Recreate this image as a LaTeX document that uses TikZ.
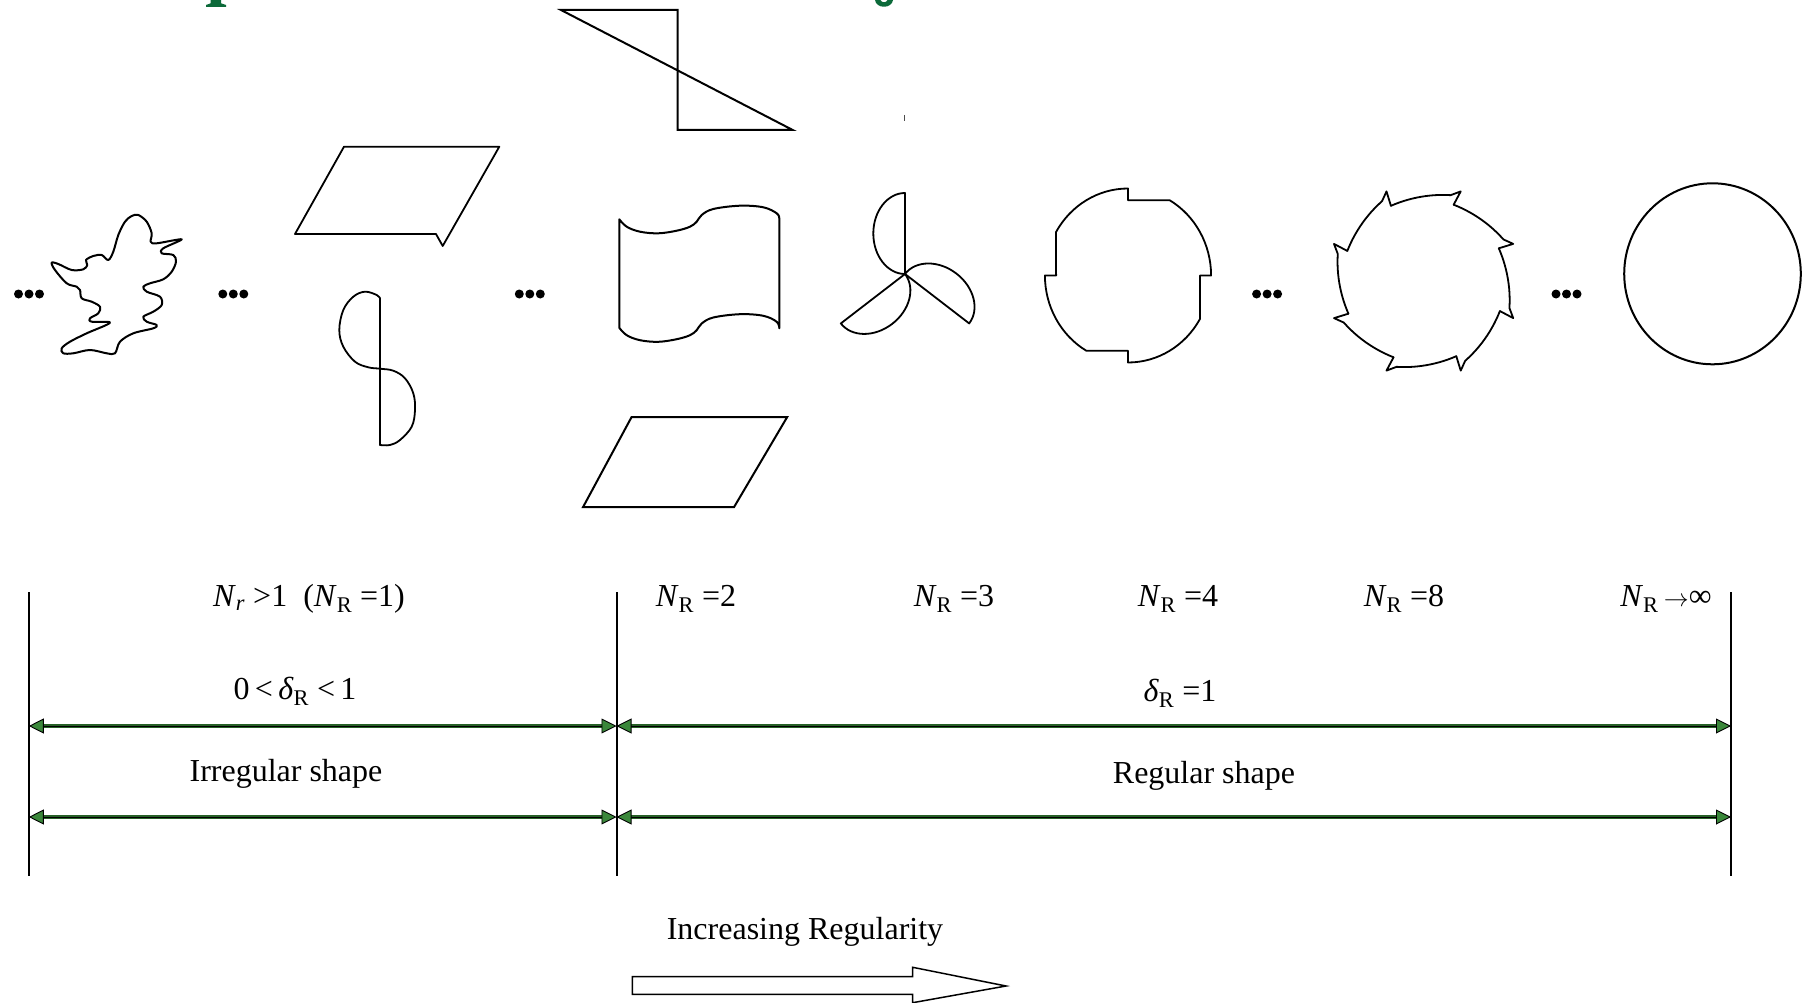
\documentclass[tikz,border=0pt]{standalone}
\usepackage{fontspec}
\setmainfont{Liberation Serif}
\usetikzlibrary{arrows.meta}
\definecolor{titlegreen}{RGB}{12,106,58}
\definecolor{shaftgreen}{RGB}{38,96,38}
\definecolor{tipgreen}{RGB}{58,135,58}
\tikzset{
  lbl/.style={inner sep=0pt, font=\fontsize{32}{38}\selectfont},
  outl/.style={draw=black, line width=2pt, line join=round, line cap=round},
  jag/.style={draw=black, line width=1.8pt, line join=round, line cap=round},
  vline/.style={draw=black, line width=2pt},
  dimshaft/.style={draw=shaftgreen, line width=3.6pt, shorten <=10pt, shorten >=10pt},
  dimtip/.style={draw=black, line width=0.9pt, {Triangle[length=15pt,width=15pt,fill=tipgreen]}-{Triangle[length=15pt,width=15pt,fill=tipgreen]}},
  bigarrow/.style={draw=black, line width=1.5pt, fill=white, line join=miter}
}
\begin{document}
\begin{tikzpicture}[x=1pt,y=-1pt]
\useasboundingbox (0,0) rectangle (1807,1003);
\fill[white] (0,0) rectangle (1807,1003);

% cut-off title fragments
\fill[titlegreen] (210.7,0) -- (221,0) -- (221,3.3) -- (226,5) -- (226,6.8) -- (206,6.8) -- (206,5) -- (210.7,3.3) -- cycle;
\fill[titlegreen] (875,0) .. controls (876,9) and (892,9) .. (893,0) -- (887.5,0) .. controls (886.5,3) and (881.5,3) .. (880.5,0) -- cycle;

% dots
\foreach \cx in {29,233.3,529.8,1267.1,1566.5}
  \foreach \d in {-10.5,0,10.5}
    \fill (\cx+\d,294) circle (4.5);

% irregular blob
\draw[outl] plot[smooth cycle, tension=0.55] coordinates {
 (138.3,215) (146.7,221.7) (151.7,233.3) (150.7,241.7) (156.7,243.3) (181.7,239.3)
 (163.3,248.3) (161.7,253.3) (173.3,255) (176,261.7) (171.7,271.7) (163.3,279.3)
 (150,283.3) (143.3,286.7) (146.7,291.7) (160,296.7) (161.7,305) (153.3,311.7)
 (143.3,316.7) (146.7,321.7) (156.7,325) (153.3,328.3) (133.3,333.3) (120,341.7)
 (115,353.3) (106.7,353.3) (90,350) (73.3,353.3) (63.3,353.3) (61.7,348.3)
 (70,341.7) (86.7,333.3) (110,322.7) (91.7,321.7) (90,318.3) (98.3,313.3)
 (100,306.7) (91.7,301.7) (81.7,298.3) (80,290) (76.7,286.7) (66.7,283.3)
 (55,270) (51.7,262.7) (58.3,264) (71.7,270) (83.3,269.3) (87.3,265)
 (86,260) (93.3,256) (101.7,255) (108.3,260) (113.3,251.7) (118.3,235)
 (125,221.7) (131.7,216)};

% parallelogram with notch
\draw[jag] (344,146.7) -- (499.3,146.7) -- (442.7,246) -- (436,234) -- (295,234) -- cycle;

% S shape
\draw[jag] (380,298.3) -- (380,445);
\draw[jag] plot[smooth, tension=0.6] coordinates {
 (380,298.3) (376.7,295) (365,291.7) (353.3,296.7) (343.3,310) (339.3,330)
 (343.3,346.7) (355,361.7) (368.3,367.3) (380,368.7) (393.3,370.7) (405,378.3)
 (413.3,393.3) (415,410) (411.7,426.7) (400,440) (390,445) (380,445)};

% Z shape at top
\draw[outl, line cap=butt, line join=miter] (561,10) -- (677.6,10) -- (677.6,130) -- (792.7,130) -- cycle;
\draw[draw=black!70, line width=1.5pt] (904.5,115) -- (904.5,121);

% flag
\draw[outl] plot[smooth, tension=0.6] coordinates {
 (619.3,219.3) (626.7,226.7) (640,231.7) (658.3,233.3) (676.7,230.7) (690,226.7)
 (696.7,221.7) (701.7,215) (713.3,209) (740,205.7) (763.3,207.3) (776.7,213.3) (779.3,218.3)}
 -- plot[smooth, tension=0.6] coordinates {
 (779.3,328.3) (776.7,321.8) (763.3,315.8) (740,314.2) (713.3,317.5) (701.7,323.5)
 (696.7,330.2) (690,335.2) (676.7,339.2) (658.3,341.8) (640,340.2) (626.7,335.2) (619.3,327.8)}
 -- cycle;

% lower parallelogram
\draw[outl, line join=miter] (631.5,417.2) -- (787.1,417.2) -- (734.1,507) -- (583.1,507) -- cycle;

% propeller
\foreach \rot in {0,-127.6,127.6}{
  \begin{scope}[shift={(905,274)}, rotate=\rot]
    \draw[jag] (0,0) -- (0,-81) arc[start angle=270, end angle=90, x radius=31.7, y radius=40.5];
  \end{scope}
}

% N_R = 4 shape
\begin{scope}[shift={(1128,275.5)}, x=1pt, y=1pt, xscale=0.955]
  \draw[jag] (150:87) arc[start angle=150,end angle=90,radius=87] -- (90:75.3) -- (60:87)
    arc[start angle=60,end angle=0,radius=87] -- (0:75.3) -- (-30:87)
    arc[start angle=-30,end angle=-90,radius=87] -- (-90:75.3) -- (-120:87)
    arc[start angle=-120,end angle=-180,radius=87] -- (180:75.3) -- cycle;
\end{scope}

% N_R = 8 shape
\begin{scope}[shift={(1423.6,281)}, x=1pt, y=1pt]
  \foreach \k [evaluate=\k as \T using 112.5-45*\k] in {0,...,7}{
    \draw[jag] plot[domain=0:1, samples=14] ({\T+46-41*\x}:{82+8*\x*\x}) -- (\T:97) -- (\T+1:82);
  }
\end{scope}

% circle
\draw[outl] (1712.5,273.8) ellipse [x radius=88.3, y radius=90.5];

% labels
\node[lbl] (nr1) at (309,599) {\textit{N}\textsubscript{\textit{r}} >1~~(\textit{N}\textsubscript{R} =1)};
\node[lbl] (nr2) at (696,599) {\textit{N}\textsubscript{R} =2};
\node[lbl] (nr3) at (954,599) {\textit{N}\textsubscript{R} =3};
\node[lbl] (nr4) at (1178,599) {\textit{N}\textsubscript{R} =4};
\node[lbl] (nr8) at (1404,599) {\textit{N}\textsubscript{R} =8};
\node[lbl] (nrinf) at (1666,599) {\textit{N}\textsubscript{R}\,$\rightarrow$∞};
\node[lbl] (dl) at (295,691) {0\,<\,\textit{δ}\textsubscript{R} <\,1};
\node[lbl] (dr) at (1180,693) {\textit{δ}\textsubscript{R} =1};
\node[lbl] (irr) at (286,773.5) {Irregular shape};
\node[lbl] (reg) at (1204,775.5) {Regular shape};
\node[lbl] (inc) at (805,931.5) {Increasing Regularity};

% vertical lines
\coordinate (vLt) at (28.8,592); \coordinate (vLb) at (28.8,876);
\coordinate (vMt) at (616.5,592); \coordinate (vMb) at (616.5,876);
\coordinate (vRt) at (1731,592); \coordinate (vRb) at (1731,876);
\draw[vline] (vLt) -- (vLb);
\draw[vline] (vMt) -- (vMb);
\draw[vline] (vRt) -- (vRb);

% dimension arrows
\coordinate (a1L) at (28.8,726); \coordinate (a1M) at (616.5,726); \coordinate (a1R) at (1731,726);
\coordinate (a2L) at (28.8,817); \coordinate (a2M) at (616.5,817); \coordinate (a2R) at (1731,817);
\foreach \p/\q in {a1L/a1M, a1M/a1R, a2L/a2M, a2M/a2R}{
  \draw[dimshaft] (\p) -- (\q);
  \draw[dimtip] (\p) -- (\q);
}

% big outline arrow
\draw[bigarrow] (632.3,976.7) -- (912.7,976.7) -- (912.7,967.3) -- (1006,986) -- (912.7,1002.7) -- (912.7,994.3) -- (632.3,994.3) -- cycle;
\end{tikzpicture}
\end{document}
